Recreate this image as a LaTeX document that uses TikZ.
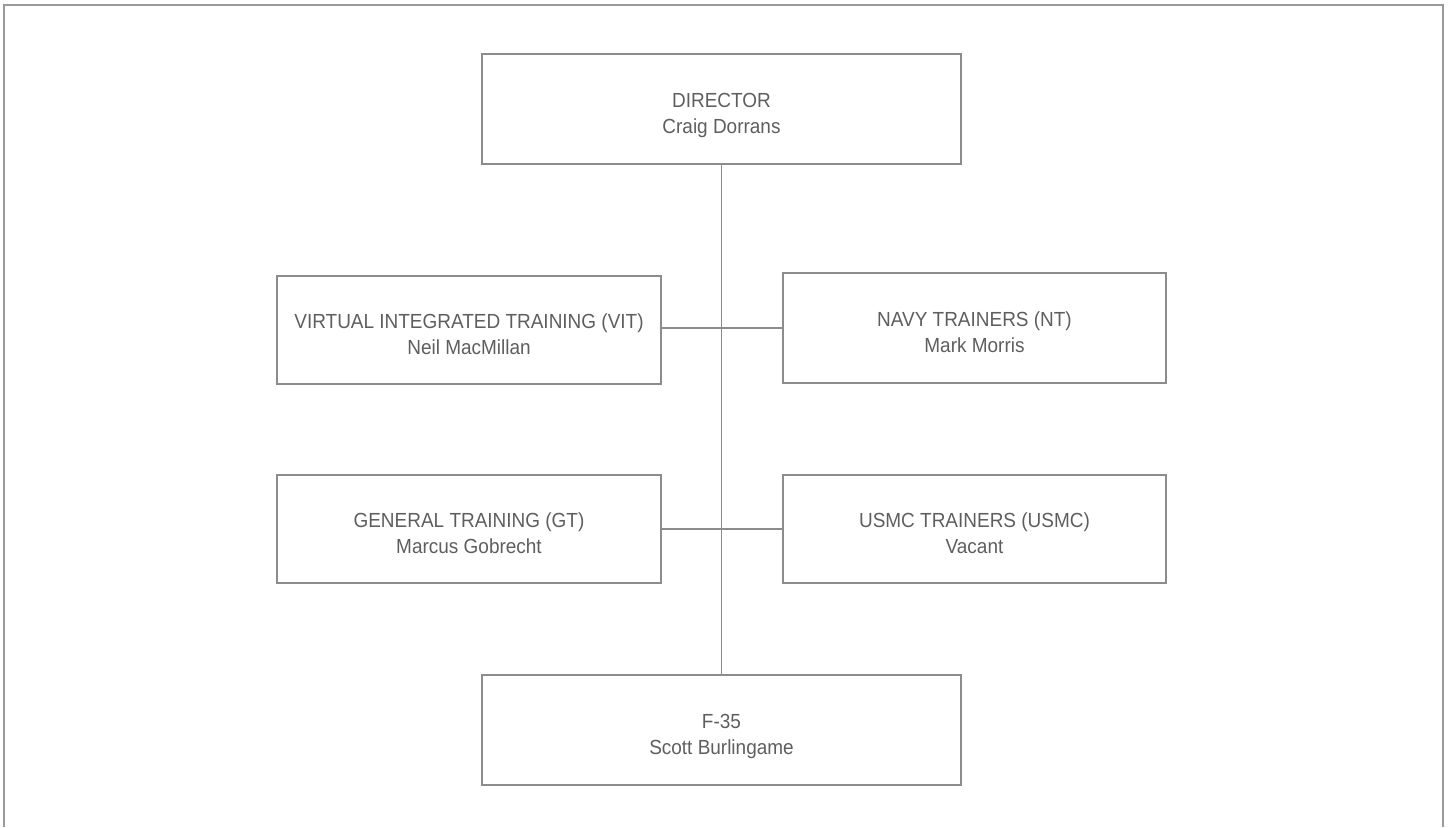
\documentclass[tikz,border=0pt]{standalone}
\usepackage{fontspec}
\setmainfont{Liberation Sans}[FakeStretch=0.93]
\definecolor{txt}{HTML}{5E5E5E}
\definecolor{ln}{HTML}{8C8C8C}
\definecolor{frame}{HTML}{9A9A9A}
\newcommand{\toprl}{\rule{0pt}{14.3pt}}
\newcommand{\botrl}{\rule[-3pt]{0pt}{3pt}}
\begin{document}
\begin{tikzpicture}[x=0.5pt,y=-0.5pt,
  orgbox/.style={draw=ln,line width=0.8pt,rectangle,align=center,text=txt,
    font=\fontsize{10.2}{13}\selectfont,inner sep=0pt},
  conn/.style={draw=ln,line width=0.8pt}]
\useasboundingbox (0,0) rectangle (1448,827);
% frame (open at the bottom)
\draw[frame,line width=1pt] (3.5,827) -- (3.5,5) -- (1443,5) -- (1443,827);
% boxes
\node[orgbox,minimum width=239.5pt,minimum height=55pt] (dir) at (721.5,109) {\toprl DIRECTOR\\Craig Dorrans\botrl};
\node[orgbox,minimum width=192pt,minimum height=54pt] (vit) at (469,330) {\toprl VIRTUAL INTEGRATED TRAINING (VIT)\\Neil MacMillan\botrl};
\node[orgbox,minimum width=191.5pt,minimum height=55pt] (nt) at (974.5,328) {\toprl NAVY TRAINERS (NT)\\Mark Morris\botrl};
\node[orgbox,minimum width=192pt,minimum height=54pt] (gt) at (469,529) {\toprl GENERAL TRAINING (GT)\\Marcus Gobrecht\botrl};
\node[orgbox,minimum width=191.5pt,minimum height=54pt] (usmc) at (974.5,529) {\toprl USMC TRAINERS (USMC)\\Vacant\botrl};
\node[orgbox,minimum width=239.5pt,minimum height=55pt] (f35) at (721.5,730) {\toprl F-35\\Scott Burlingame\botrl};
% connectors
\draw[conn] (dir.south) -- (f35.north);
\draw[conn] (vit.east |- nt.west) -- (nt.west);
\draw[conn] (gt.east) -- (usmc.west);
\end{tikzpicture}
\end{document}
